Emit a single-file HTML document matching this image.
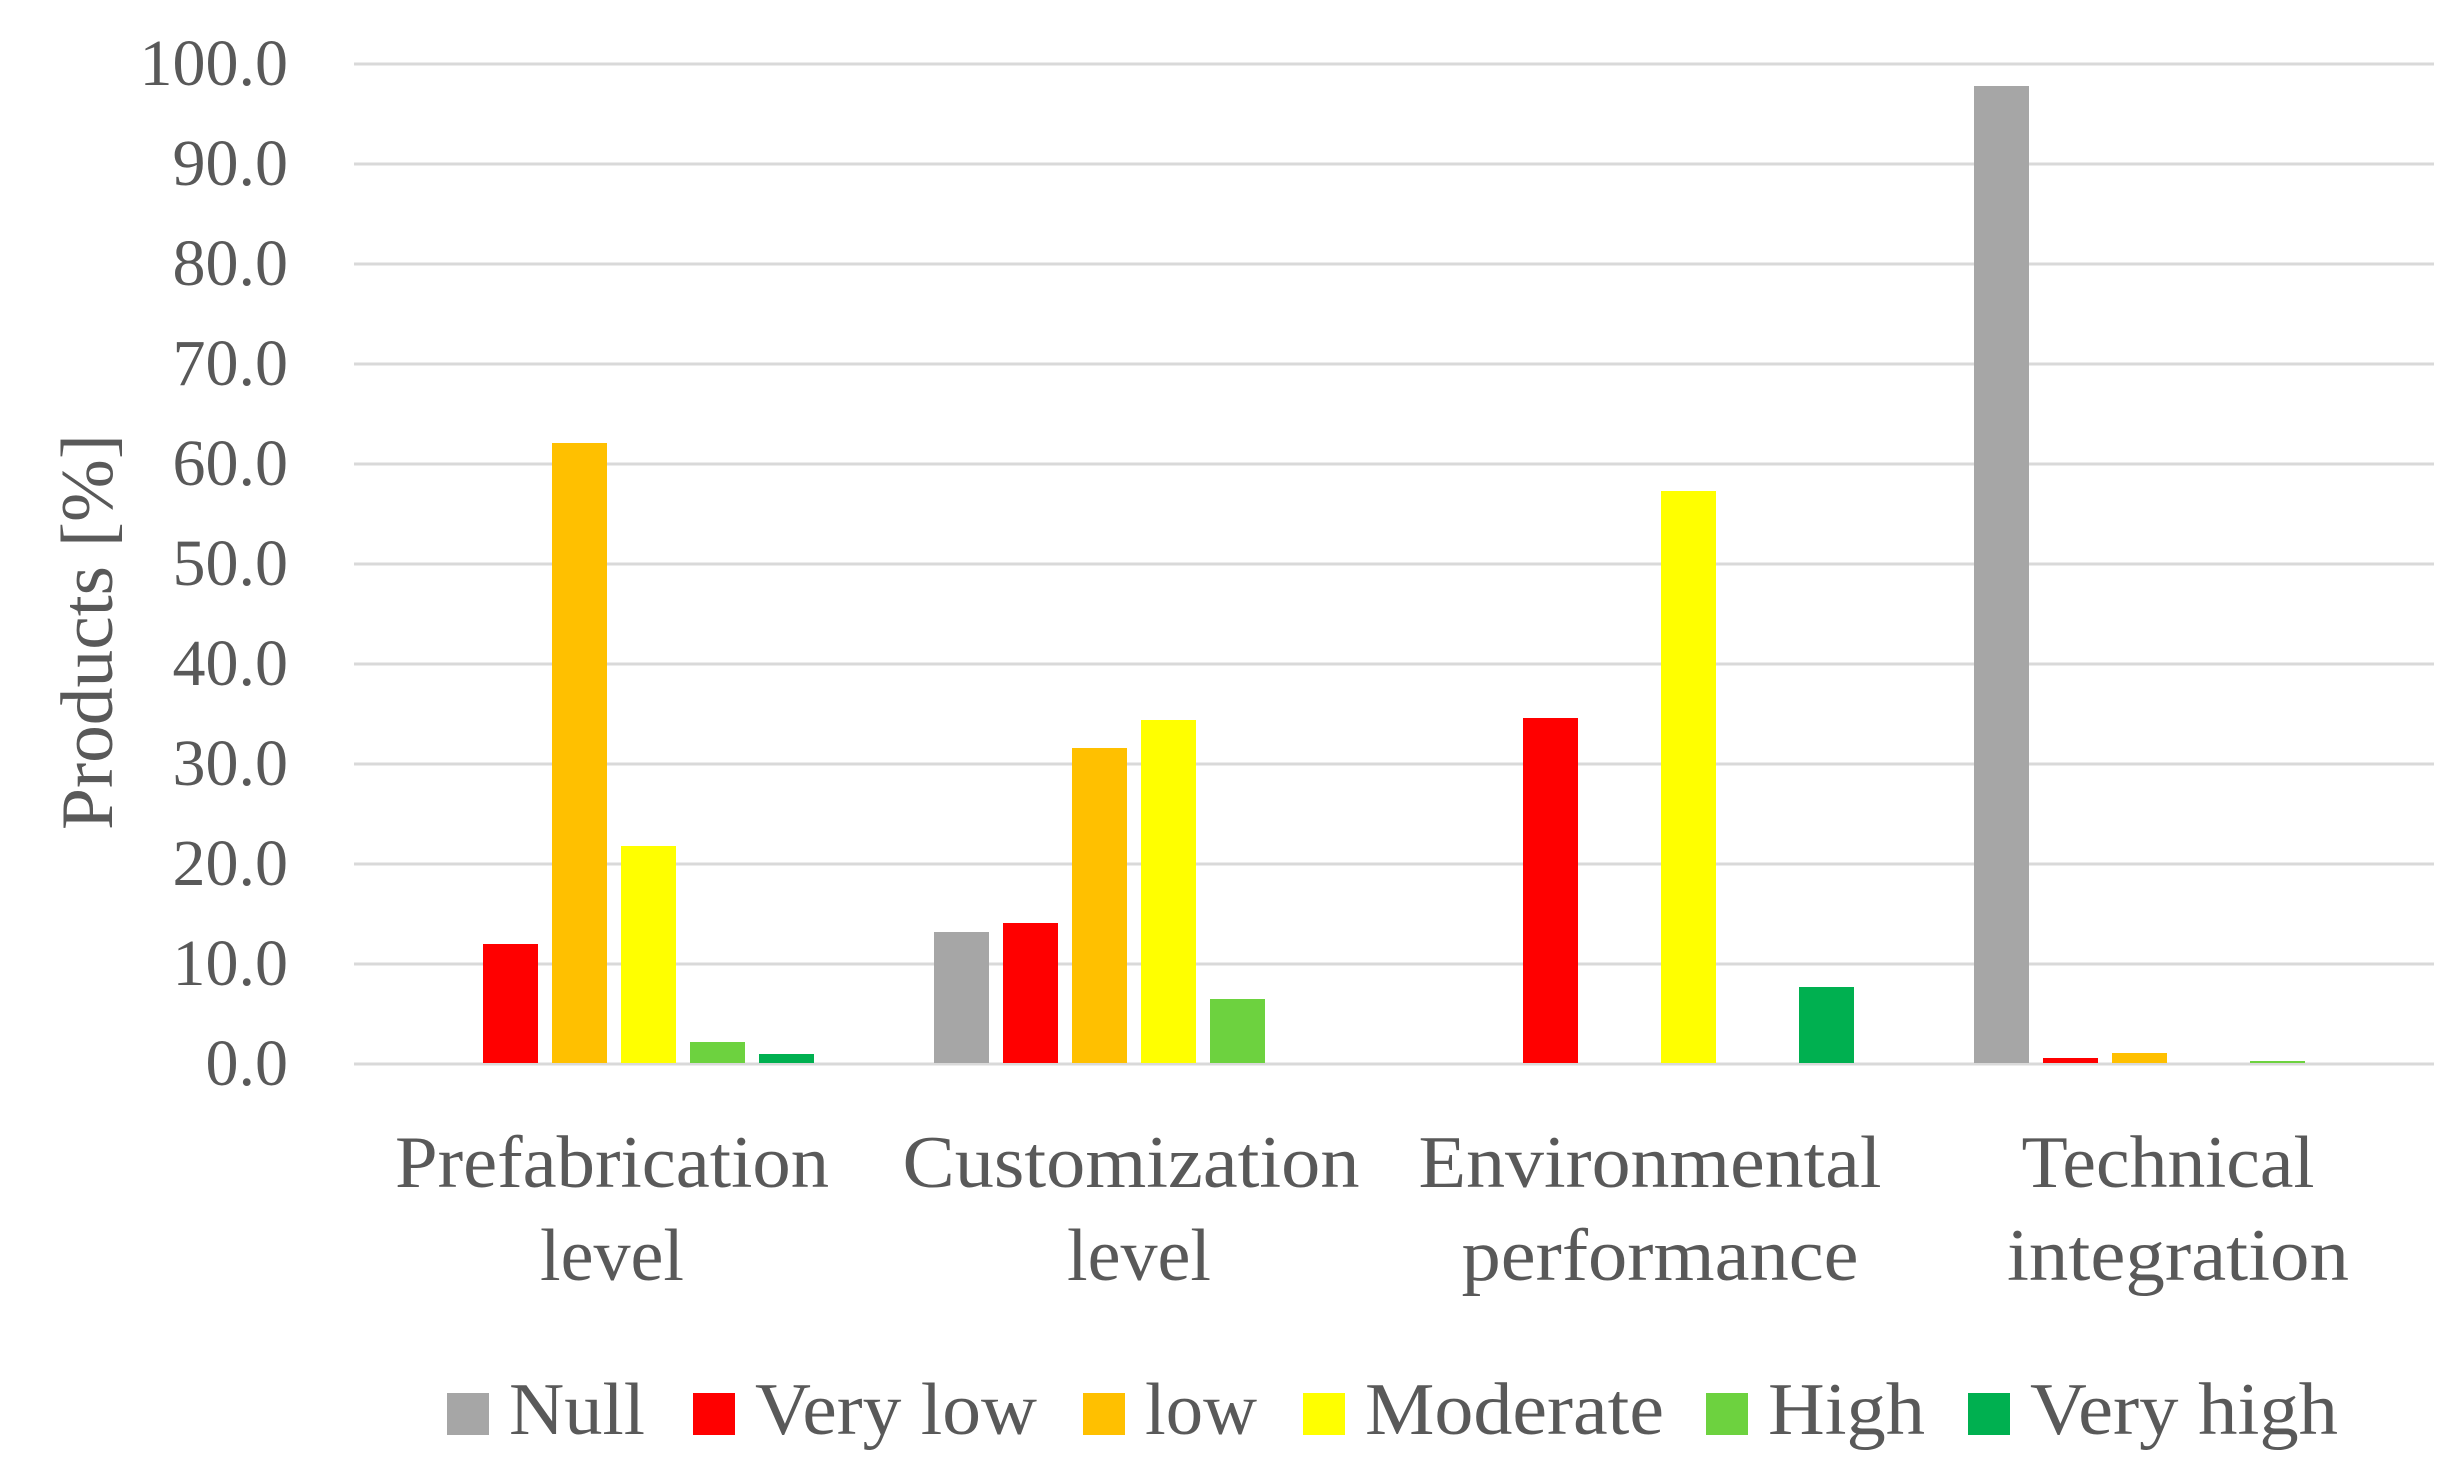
<!DOCTYPE html>
<html><head><meta charset="utf-8"><style>
html,body{margin:0;padding:0;background:#fff;}
svg{display:block;}
text{font-family:"Liberation Serif",serif;fill:#595959;}
</style></head><body>
<svg id="chart" width="2456" height="1484" viewBox="0 0 2456 1484" xmlns="http://www.w3.org/2000/svg">
<g id="grid"></g><g id="bars"></g><g id="labels"></g><g id="legend"></g>
<text transform="translate(112,632) rotate(-90)" text-anchor="middle" font-size="74" textLength="396" lengthAdjust="spacingAndGlyphs">Products [%]</text>
</svg>
<script>
const categories = [["Prefabrication","level"],["Customization","level"],["Environmental","performance"],["Technical","integration"]];
const seriesNames = ["Null","Very low","low","Moderate","High","Very high"];
const seriesColors = ["#a6a6a6","#ff0000","#ffc000","#ffff00","#6dd23f","#00b050"];
const nullVals = [0, 13.2, 0, 97.8];
const veryLowVals = [12.0, 14.1, 34.6, 0.6];
const lowVals = [62.1, 31.6, 0, 1.1];
const moderateVals = [21.8, 34.4, 57.3, 0];
const highVals = [2.2, 6.5, 0, 0.3];
const veryHighVals = [1.0, 0, 7.7, 0];
const yTicks = [0,10,20,30,40,50,60,70,80,90,100];
const yTickLabels = ["0.0","10.0","20.0","30.0","40.0","50.0","60.0","70.0","80.0","90.0","100.0"];

const series = [nullVals, veryLowVals, lowVals, moderateVals, highVals, veryHighVals];
const NS = "http://www.w3.org/2000/svg";
const plotL = 354, plotR = 2434, y0 = 1064, y100 = 64;
const yScale = v => y0 - (v/100)*(y0-y100);
const catW = (plotR-plotL)/categories.length;
const slot = 69, barW = 55;
const xCenter = (ci, si) => plotL + catW*(ci+0.5) + (si - (series.length-1)/2)*slot;
function mk(tag, attrs){const e=document.createElementNS(NS,tag);for(const k in attrs)e.setAttribute(k,attrs[k]);return e;}

const grid=document.getElementById('grid');
yTicks.forEach((t,i)=>{
  const y=yScale(t);
  const l=mk('line',{x1:plotL,x2:plotR,y1:y,y2:y,stroke:'#d9d9d9','stroke-width':3});
  
  
  grid.appendChild(l);
  const tx=mk('text',{x:288,y:y+21,'text-anchor':'end','font-size':66});
  
  
  tx.textContent=yTickLabels[i];
  grid.appendChild(tx);
});

const bars=document.getElementById('bars');
series.forEach((vals,si)=>{
  vals.forEach((v,ci)=>{
    if(v<=0) return;
    const yt=yScale(v);
    const r=mk('rect',{x:xCenter(ci,si)-barW/2,y:yt,width:barW,height:y0-yt-1,fill:seriesColors[si]});
    
    
    bars.appendChild(r);
  });
});

const labels=document.getElementById('labels');
const labCx=[[612,612],[1131,1139],[1650,1660],[2168,2178]];
const labW=[[434,144],[457,144],[463,397],[293,342]];
categories.forEach((lines,ci)=>{
  lines.forEach((s,li)=>{
    const t=mk('text',{x:labCx[ci][li],y:1187+li*93,'text-anchor':'middle','font-size':74,textLength:labW[ci][li],lengthAdjust:'spacingAndGlyphs'});
    
    
    t.textContent=s;
    labels.appendChild(t);
  });
});

const legend=document.getElementById('legend');
const legX=[447,693,1083,1303,1706,1968];
const legW=[136,282,112,299,157,308];
seriesNames.forEach((n,i)=>{
  const g=mk('g',{});
  
  
  g.appendChild(mk('rect',{x:legX[i],y:1393,width:42,height:42,fill:seriesColors[i]}));
  const t=mk('text',{x:legX[i]+62,y:1434,'font-size':74,textLength:legW[i],lengthAdjust:'spacingAndGlyphs'});
  t.textContent=n;
  g.appendChild(t);
  legend.appendChild(g);
});
</script>
</body></html>
